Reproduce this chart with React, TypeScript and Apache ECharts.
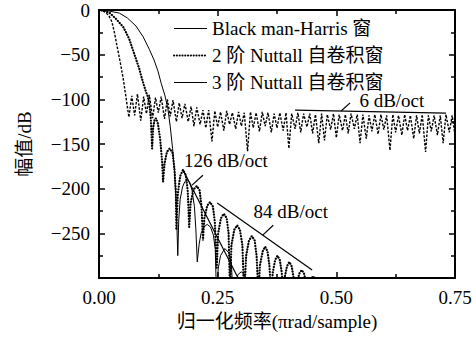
import React, { useEffect, useRef } from 'react';
import * as echarts from 'echarts';

const seriesNames = ['Black man-Harris 窗', '2 阶 Nuttall 自卷积窗', '3 阶 Nuttall 自卷积窗'];
const xTickLabels = ['0.00', '0.25', '0.50', '0.75'];
const yTickLabels = ['0', '−50', '−100', '−150', '−200', '−250'];
const xAxisName = '归一化频率(πrad/sample)';
const yAxisName = '幅值/dB';

// Blackman-Harris window: main lobe, then sidelobe peaks and nulls
const bhMainLobe: [number, number][] = [
  [0, 0], [0.01, -1.5], [0.02, -5.5], [0.027, -13], [0.032, -24], [0.039, -43],
  [0.046, -62], [0.051, -77], [0.055, -91], [0.058, -102], [0.063, -120],
];
const bhPeaks: [number, number][] = [
  [0.069, -96], [0.081, -94], [0.094, -97], [0.106, -95], [0.119, -98], [0.131, -97],
  [0.144, -100], [0.156, -101], [0.169, -104], [0.181, -105], [0.194, -108], [0.206, -109],
  [0.219, -112], [0.231, -112], [0.244, -113], [0.256, -114], [0.269, -113], [0.281, -115],
  [0.294, -114], [0.306, -115], [0.319, -114], [0.331, -115], [0.344, -114], [0.356, -115],
  [0.369, -116], [0.381, -115], [0.394, -115], [0.406, -116], [0.419, -115], [0.431, -116],
  [0.444, -116], [0.456, -117], [0.469, -116], [0.481, -117], [0.494, -116], [0.506, -117],
  [0.519, -117], [0.531, -116], [0.544, -117], [0.556, -117], [0.569, -118], [0.581, -117],
  [0.594, -117], [0.606, -118], [0.619, -117], [0.631, -118], [0.644, -117], [0.656, -118],
  [0.669, -118], [0.681, -117], [0.694, -118], [0.706, -118], [0.719, -118], [0.731, -117],
  [0.744, -118],
];
const bhNulls: [number, number][] = [
  [0.075, -118], [0.088, -124], [0.1, -116], [0.113, -121], [0.125, -115], [0.138, -122],
  [0.15, -119], [0.163, -125], [0.175, -121], [0.188, -125], [0.2, -130], [0.213, -128],
  [0.225, -132], [0.238, -147], [0.25, -131], [0.263, -135], [0.275, -128], [0.288, -133],
  [0.3, -130], [0.313, -158], [0.325, -132], [0.338, -136], [0.35, -130], [0.363, -137],
  [0.375, -132], [0.388, -135], [0.4, -155], [0.413, -133], [0.425, -137], [0.438, -131],
  [0.45, -138], [0.463, -149], [0.475, -146], [0.488, -134], [0.5, -143], [0.513, -135],
  [0.525, -138], [0.538, -133], [0.55, -149], [0.563, -144], [0.575, -136], [0.588, -139],
  [0.6, -134], [0.613, -157], [0.625, -137], [0.638, -140], [0.65, -135], [0.663, -144],
  [0.675, -138], [0.688, -159], [0.7, -136], [0.713, -140], [0.725, -149], [0.738, -137],
  [0.75, -140],
];

// 2nd-order Nuttall self-convolution window
const nuttall2: [number, number][] = [
  [0, 0], [0.01, -0.8], [0.023, -3.5], [0.036, -10], [0.051, -19], [0.057, -25], [0.064, -33],
  [0.071, -44], [0.078, -55], [0.085, -66], [0.09, -76], [0.095, -85], [0.1, -93], [0.103, -97],
  [0.106, -105], [0.109, -120], [0.112, -155],
  [0.114, -132], [0.117, -123], [0.12, -121], [0.124, -127], [0.129, -145], [0.133, -170], [0.135, -192],
  [0.138, -172], [0.143, -159], [0.149, -155], [0.155, -160], [0.159, -178], [0.162, -205], [0.163, -246],
  [0.166, -206], [0.171, -186], [0.177, -179], [0.183, -185], [0.187, -203], [0.19, -243],
  [0.193, -216], [0.199, -201], [0.206, -197], [0.212, -202], [0.216, -220], [0.219, -258],
  [0.222, -233], [0.228, -219], [0.234, -215], [0.24, -220], [0.244, -237], [0.248, -290],
  [0.251, -250], [0.257, -233], [0.263, -228], [0.269, -233], [0.273, -250], [0.276, -315],
  [0.279, -263], [0.285, -246], [0.291, -241], [0.297, -246], [0.302, -263], [0.306, -320],
  [0.31, -275], [0.316, -258], [0.322, -253], [0.328, -258], [0.332, -275], [0.336, -320],
  [0.339, -286], [0.345, -270], [0.35, -265], [0.355, -270], [0.359, -286], [0.363, -320],
  [0.366, -294], [0.371, -280], [0.376, -275], [0.381, -280], [0.385, -294], [0.389, -320],
  [0.391, -300], [0.396, -287], [0.401, -282], [0.406, -287], [0.41, -300], [0.414, -320],
  [0.417, -305], [0.422, -295], [0.427, -291], [0.432, -295], [0.436, -305], [0.439, -320],
  [0.442, -310], [0.447, -301], [0.451, -298], [0.455, -301], [0.459, -310], [0.462, -320],
];

// 3rd-order Nuttall self-convolution window
const nuttall3: [number, number][] = [
  [0, 0], [0.02, -1], [0.043, -3.5], [0.06, -9], [0.078, -18], [0.093, -30], [0.106, -44],
  [0.116, -56], [0.124, -68], [0.131, -82], [0.139, -96], [0.145, -110], [0.15, -130],
  [0.155, -155], [0.159, -180], [0.162, -210], [0.164, -240], [0.166, -275],
  [0.168, -235], [0.171, -212], [0.176, -198], [0.181, -192], [0.186, -190], [0.191, -193],
  [0.196, -202], [0.201, -220], [0.204, -245], [0.207, -282],
  [0.211, -262], [0.215, -250], [0.221, -243], [0.228, -240], [0.235, -243], [0.241, -252],
  [0.245, -268], [0.248, -330],
  [0.251, -290], [0.256, -275], [0.265, -267], [0.274, -272], [0.279, -285], [0.283, -330],
  [0.288, -305], [0.293, -296], [0.3, -293], [0.307, -297], [0.312, -308], [0.316, -330],
];

// annotation slope lines and leaders (data coordinates)
const slope6: [number, number][] = [[0.413, -112], [0.731, -115.5]];
const slope126: [number, number][] = [[0.176, -178], [0.293, -300]];
const slope84: [number, number][] = [[0.249, -216], [0.449, -291]];
const leader6: [number, number][] = [[0.51, -113], [0.529, -104]];
const leader126: [number, number][] = [[0.196, -196], [0.219, -185]];
const leader84: [number, number][] = [[0.345, -252], [0.367, -241]];
const annotTexts = ['6 dB/oct', '126 dB/oct', '84 dB/oct'];
const annotAnchors: [number, number][] = [[0.617, -101], [0.179, -168], [0.404, -226]];
const annotAligns = ['center', 'left', 'center'];

const FONT = '"Liberation Serif", "Times New Roman", "Noto Sans CJK SC", serif';
const FS = 19;

export default function App() {
  const ref = useRef<HTMLDivElement>(null);
  useEffect(() => {
    if (!ref.current) return;
    const chart = echarts.init(ref.current, undefined, { renderer: 'svg' });
    const bhCurve: [number, number][] = [...bhMainLobe, ...bhPeaks, ...bhNulls].sort((a, b) => a[0] - b[0]);
    const fmtY = (v: number) => {
      const idx = Math.round(-v / 50);
      return idx >= 0 && idx < yTickLabels.length ? yTickLabels[idx] : '';
    };
    const fmtX = (v: number) => {
      const idx = Math.round(v / 0.25);
      return xTickLabels[idx] ?? '';
    };
    const helper = (name: string, data: [number, number][]) => ({
      name, type: 'line', data, symbol: 'none', silent: true,
      lineStyle: { color: '#000', width: 1.2 }, itemStyle: { color: '#000' }, z: 5,
    });
    const axisCommon = {
      axisLine: { show: true, onZero: false, lineStyle: { color: '#000', width: 2 } },
      axisTick: { show: true, inside: true, length: 6, lineStyle: { color: '#000', width: 1.5 } },
      minorTick: { show: true, splitNumber: 2, length: 4, lineStyle: { color: '#000', width: 1.5 } },
      splitLine: { show: false },
    };
    chart.setOption({
      animation: false,
      backgroundColor: '#fff',
      textStyle: { fontFamily: FONT },
      grid: { left: 99, right: 21, top: 10, bottom: 60 },
      legend: {
        orient: 'vertical', left: 168, top: 14, itemWidth: 33, itemHeight: 14, itemGap: 8,
        itemStyle: { opacity: 0 },
        textStyle: { fontFamily: FONT, fontSize: FS, color: '#000', lineHeight: 17 },
        data: [
          { name: seriesNames[0], lineStyle: { type: 'solid', width: 1.2, color: '#000' } },
          { name: seriesNames[1], lineStyle: { color: '#000' } },
          { name: seriesNames[2], lineStyle: { color: '#000', width: 1.2 } },
        ],
        selectedMode: false,
      },
      xAxis: [
        {
          type: 'value', min: 0, max: 0.75, interval: 0.25, position: 'bottom',
          ...axisCommon,
          axisLabel: { show: true, formatter: fmtX, fontFamily: FONT, fontSize: FS, color: '#000', margin: 10 },
          name: xAxisName, nameLocation: 'middle', nameGap: 34,
          nameTextStyle: { fontFamily: FONT, fontSize: FS, color: '#000' },
        },
        {
          type: 'value', min: 0, max: 0.75, interval: 0.25, position: 'top',
          ...axisCommon, axisLabel: { show: false },
        },
      ],
      yAxis: [
        {
          type: 'value', min: -300, max: 0, interval: 50, position: 'left',
          ...axisCommon,
          axisLabel: { show: true, formatter: fmtY, fontFamily: FONT, fontSize: FS, color: '#000', margin: 9 },
          name: yAxisName, nameLocation: 'middle', nameGap: 65,
          nameTextStyle: { fontFamily: FONT, fontSize: FS, color: '#000' },
        },
        {
          type: 'value', min: -300, max: 0, interval: 50, position: 'right',
          ...axisCommon, axisLabel: { show: false },
        },
      ],
      series: [
        {
          name: seriesNames[0], type: 'line', data: bhCurve, symbol: 'none',
          itemStyle: { color: '#000' },
          lineStyle: { color: '#000', width: 1.4, type: [2.5, 1.5] }, z: 3,
        },
        {
          name: seriesNames[1], type: 'line', data: nuttall2, symbol: 'none',
          itemStyle: { color: '#000' },
          lineStyle: { color: '#000', width: 2.2, type: [0.2, 2.6], cap: 'round' }, z: 4,
        },
        {
          name: seriesNames[2], type: 'line', data: nuttall3, symbol: 'none',
          itemStyle: { color: '#000' },
          lineStyle: { color: '#000', width: 1 }, z: 4,
        },
        helper('_s6', slope6),
        helper('_s126', slope126),
        helper('_s84', slope84),
        helper('_l6', leader6),
        helper('_l126', leader126),
        helper('_l84', leader84),
      ],
    });
    const graphics = annotTexts.map((t, i) => {
      const p = chart.convertToPixel({ gridIndex: 0 }, annotAnchors[i]) as number[];
      return {
        type: 'text', x: p[0], y: p[1], z: 10,
        style: {
          text: t, fill: '#000', font: `${FS}px ${FONT}`,
          align: annotAligns[i], verticalAlign: 'middle',
          textAlign: annotAligns[i], textVerticalAlign: 'middle',
        },
      };
    });
    chart.setOption({ graphic: graphics });
    return () => chart.dispose();
  }, []);
  return <div ref={ref} style={{ position: 'fixed', left: 0, top: 0, width: 476, height: 338 }} />;
}
